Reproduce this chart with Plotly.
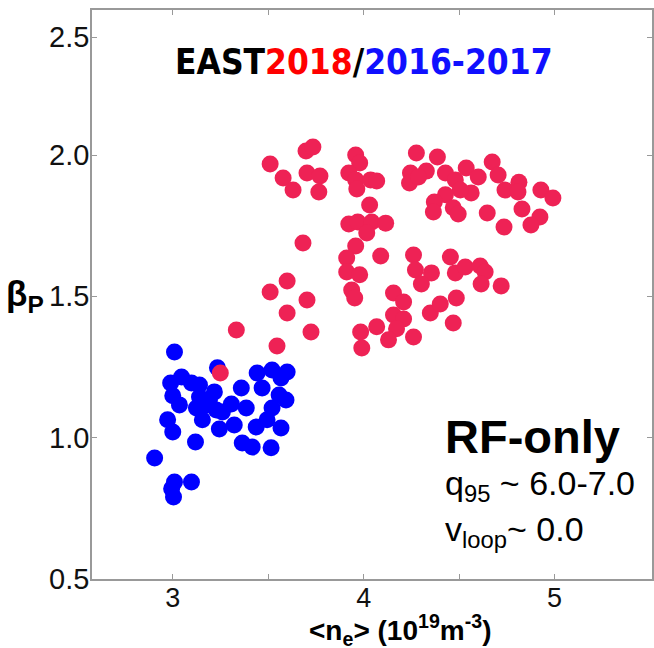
import plotly.graph_objects as go

# EAST 2018 (red)
red_ne = [3.510, 3.578, 3.630, 3.698, 3.734, 3.703, 3.771, 3.765, 3.958, 3.979,
          3.922, 3.958, 3.964, 4.036, 4.068, 4.031, 3.922, 3.969, 4.042, 4.115,
          4.016, 3.682, 3.958, 3.911, 4.089, 3.911, 3.979, 3.937, 3.953, 4.276,
          4.386, 4.245, 4.240, 4.328, 4.287, 4.428, 4.480, 4.537, 4.563, 4.506,
          4.428, 4.370, 4.365, 4.469, 4.495, 4.647, 4.600, 4.673, 4.704, 4.740,
          4.813, 4.808, 4.829, 4.928, 4.991, 4.735, 4.923, 4.876, 4.261, 4.271,
          4.355, 4.302, 4.454, 4.480, 4.532, 4.610, 4.636, 4.615, 4.720, 3.510,
          3.599, 3.703, 3.599, 3.724, 3.546, 3.333, 3.984, 3.990, 4.068, 4.156,
          4.209, 4.156, 4.209, 4.172, 4.130, 4.261, 4.349, 4.401, 4.485, 4.469,
          3.249]
red_bp = [1.968, 1.919, 1.876, 2.014, 2.028, 1.936, 1.926, 1.869, 2.000, 1.972,
          1.936, 1.912, 1.880, 1.912, 1.908, 1.823, 1.756, 1.763, 1.763, 1.759,
          1.724, 1.689, 1.678, 1.636, 1.643, 1.586, 1.576, 1.522, 1.494, 2.007,
          1.993, 1.936, 1.901, 1.943, 1.922, 1.936, 1.912, 1.954, 1.866, 1.876,
          1.859, 1.834, 1.798, 1.813, 1.791, 1.795, 1.922, 1.975, 1.929, 1.876,
          1.904, 1.869, 1.809, 1.876, 1.848, 1.745, 1.781, 1.752, 1.646, 1.593,
          1.583, 1.544, 1.639, 1.583, 1.604, 1.607, 1.586, 1.544, 1.537, 1.515,
          1.554, 1.487, 1.441, 1.374, 1.324, 1.381, 1.374, 1.317, 1.392, 1.512,
          1.480, 1.434, 1.420, 1.385, 1.346, 1.356, 1.441, 1.473, 1.494, 1.406,
          1.229]

# EAST 2016-2017 (blue)
blue_ne = [3.009, 3.234, 2.989, 3.046, 3.098, 3.140, 3.000, 3.035, 3.140, 3.124,
           3.176, 3.155, 3.218, 3.228, 3.307, 3.359, 3.385, 3.244, 3.322, 3.364,
           3.416, 3.437, 3.442, 3.520, 3.599, 3.567, 3.468, 3.557, 3.593, 3.520,
           3.494, 3.567, 3.515, 2.973, 3.000, 3.119, 2.905, 3.009, 3.098, 2.994,
           3.004, 3.192, 3.260]
blue_bp = [1.303, 1.247, 1.193, 1.215, 1.193, 1.186, 1.148, 1.116, 1.144, 1.105,
           1.116, 1.063, 1.162, 1.098, 1.119, 1.176, 1.105, 1.031, 1.045, 0.981,
           0.967, 1.038, 1.229, 1.239, 1.232, 1.211, 1.176, 1.151, 1.133, 1.105,
           1.063, 1.034, 0.964, 1.063, 1.020, 0.985, 0.928, 0.843, 0.843, 0.819,
           0.790, 1.133, 1.091]

x_tickvals = [3, 3.5, 4, 4.5, 5]
x_ticktext = ["3", "", "4", "", "5"]
y_tickvals = [0.5, 1.0, 1.5, 2.0, 2.417]
y_ticktext = ["0.5", "1.0", "1.5", "2.0", "2.5"]

RED = "#EE2255"
BLUE = "#0000FF"
SANS = "Liberation Sans, Arial, sans-serif"
tickfont = dict(family=SANS, size=29, color="#111111")
xtickfont = dict(family=SANS, size=27, color="#111111")
cond = "DejaVu Sans Condensed, Liberation Sans Narrow, Roboto Condensed, Arial Narrow, sans-serif"

fig = go.Figure()
fig.add_trace(go.Scatter(x=blue_ne, y=blue_bp, mode="markers",
                         marker=dict(size=17, color=BLUE, line=dict(width=0)),
                         name="2016-2017"))
fig.add_trace(go.Scatter(x=red_ne, y=red_bp, mode="markers",
                         marker=dict(size=17, color=RED, line=dict(width=0)),
                         name="2018"))

axis_common = dict(showgrid=False, zeroline=False, showline=True, linecolor="#999999",
                   linewidth=1.5, ticks="inside", ticklen=5, tickcolor="#999999",
                   tickwidth=1, mirror="ticks")
fig.update_xaxes(range=[2.577, 5.51], tickvals=x_tickvals, ticktext=x_ticktext,
                 ticklabelstandoff=-6, tickfont=xtickfont, **axis_common)
fig.update_yaxes(range=[0.5, 2.513], tickvals=y_tickvals, ticktext=y_ticktext,
                 ticklabelstandoff=-5, tickfont=tickfont, **axis_common)

anns = [
    dict(x=4.0, y=2.33, xref="x", yref="y",
         text="<b><span style='color:#000000'>EAST</span><span style='color:#FF0000'>2018</span>"
              "<span style='color:#000000'>/</span><span style='color:#1010FF'>2016-2017</span></b>",
         font=dict(family=cond, size=35), showarrow=False, xanchor="center", yanchor="middle"),
    dict(x=4.417, y=1.005, xref="x", yref="y", text="<b>RF-only</b>",
         font=dict(family=SANS, size=47, color="#000000"),
         showarrow=False, xanchor="left", yanchor="middle"),
    dict(x=4.417, y=0.83, xref="x", yref="y", text="q<sub>95</sub> ~ 6.0-7.0",
         font=dict(family=SANS, size=34, color="#000000"),
         showarrow=False, xanchor="left", yanchor="middle"),
    dict(x=4.417, y=0.668, xref="x", yref="y", text="v<sub>loop</sub>~ 0.0",
         font=dict(family=SANS, size=34, color="#000000"),
         showarrow=False, xanchor="left", yanchor="middle"),
    dict(x=4.19, y=-0.09, xref="x", yref="paper",
         text="<b>&lt;n<sub>e</sub>&gt; (10<sup>19</sup>m<sup>-3</sup>)</b>",
         font=dict(family=SANS, size=28, color="#000000"),
         showarrow=False, xanchor="center", yanchor="middle"),
    dict(x=-0.12, y=1.5, xref="paper", yref="y", text="<b>β<sub>P</sub></b>",
         font=dict(family=SANS, size=35, color="#000000"),
         showarrow=False, xanchor="center", yanchor="middle"),
]

fig.update_layout(width=654, height=648, margin=dict(l=92, r=0, t=10, b=69),
                  plot_bgcolor="white", paper_bgcolor="white", showlegend=False,
                  annotations=anns)
fig.write_html("out.html")
